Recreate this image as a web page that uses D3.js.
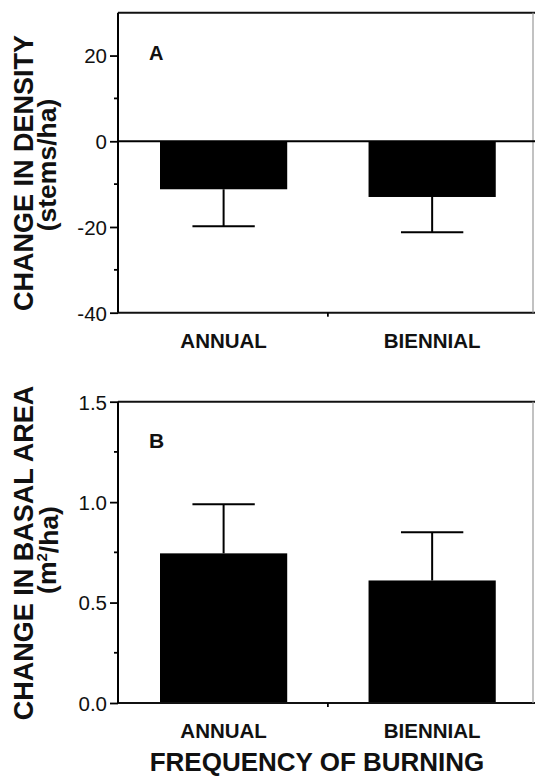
<!DOCTYPE html>
<html>
<head>
<meta charset="utf-8">
<script src="https://cdn.jsdelivr.net/npm/d3@7"></script>
<style>
    html, body { margin: 0; padding: 0; background: #fff; }
    svg { display: block; font-family: "Liberation Sans", Arial, Helvetica, sans-serif; }
</style>
</head>
<body>
<div id="chart-area"></div>
<script>
// 数据
const categories = ["ANNUAL", "BIENNIAL"];
const densityMeans = [-11.2, -13.0];
const densitySE = [8.6, 8.2];
const basalMeans = [0.745, 0.61];
const basalSE = [0.245, 0.24];

const densityTicks = [20, 0, -20, -40];
const densityTickLabels = ["20", "0", "-20", "-40"];
const densityMinor = [10, -10, -30];
const basalTicks = [0, 0.5, 1.0, 1.5];
const basalTickLabels = ["0.0", "0.5", "1.0", "1.5"];
const basalMinor = [0.25, 0.75, 1.25];

const W = 535, H = 778;
const left = 118, right = 533;

const svg = d3.select("#chart-area")
    .append("svg")
    .attr("width", W)
    .attr("height", H);

// 共用的 x 比例尺
const x = d3.scaleBand()
    .domain(categories)
    .range([left, right])
    .paddingInner(0.39)
    .paddingOuter(0.19)
    .align(0.53);

function drawPanel(opts) {
    const y = d3.scaleLinear().domain(opts.domain).range([opts.bottom, opts.top]);
    const g = svg.append("g");

    const data = categories.map((c, i) => ({ cat: c, mean: opts.means[i], se: opts.se[i] }));

    // 柱
    g.selectAll(".bar")
        .data(data)
        .join("rect")
        .attr("class", "bar")
        .attr("x", (d) => x(d.cat))
        .attr("width", x.bandwidth())
        .attr("y", (d) => y(Math.max(0, d.mean)))
        .attr("height", (d) => Math.abs(y(d.mean) - y(0)))
        .attr("fill", "#000");

    // 误差线
    const bw = x.bandwidth();
    data.forEach((d) => {
        const cx = x(d.cat) + bw / 2;
        const end = d.mean < 0 ? d.mean - d.se : d.mean + d.se;
        g.append("line")
            .attr("x1", cx).attr("x2", cx)
            .attr("y1", y(d.mean)).attr("y2", y(end))
            .attr("stroke", "#000").attr("stroke-width", 2);
        g.append("line")
            .attr("x1", cx - bw * 0.245).attr("x2", cx + bw * 0.245)
            .attr("y1", y(end)).attr("y2", y(end))
            .attr("stroke", "#000").attr("stroke-width", 2);
    });

    // 边框
    g.append("line").attr("x1", left).attr("x2", W).attr("y1", opts.top).attr("y2", opts.top)
        .attr("stroke", "#111").attr("stroke-width", 2);
    g.append("line").attr("x1", left).attr("x2", W).attr("y1", opts.bottom).attr("y2", opts.bottom)
        .attr("stroke", "#111").attr("stroke-width", 2);
    g.append("line").attr("x1", right).attr("x2", right).attr("y1", opts.top).attr("y2", opts.bottom)
        .attr("stroke", "#999").attr("stroke-width", 1.2);

    if (opts.domain[0] < 0) {
        g.append("line").attr("x1", left).attr("x2", W).attr("y1", y(0)).attr("y2", y(0))
            .attr("stroke", "#000").attr("stroke-width", 2);
    }

    // Y 轴
    const axis = g.append("g")
        .attr("transform", `translate(${left},0)`)
        .call(d3.axisLeft(y)
            .tickValues(opts.ticks)
            .tickFormat((d, i) => opts.tickLabels[i])
            .tickSize(8)
            .tickPadding(3));
    axis.select(".domain").attr("stroke", "#000").attr("stroke-width", 2)
        .attr("d", `M0,${opts.top}V${opts.bottom}`);
    axis.selectAll(".tick line").attr("stroke-width", 1.8);
    axis.selectAll(".tick text")
        .attr("fill", "#111")
        .style("font-size", "20.5px")
        .attr("dy", "0.36em");

    g.selectAll(".minor")
        .data(opts.minor)
        .join("line")
        .attr("x1", left - 4).attr("x2", left)
        .attr("y1", (d) => y(d)).attr("y2", (d) => y(d))
        .attr("stroke", "#000").attr("stroke-width", 1.8);

    // X 轴中间刻度
    const mid = (x(categories[0]) + x(categories[1]) + bw) / 2;
    g.append("line").attr("x1", mid).attr("x2", mid)
        .attr("y1", opts.bottom).attr("y2", opts.bottom + 4)
        .attr("stroke", "#000").attr("stroke-width", 1.8);

    // X 标签
    g.selectAll(".cat")
        .data(categories)
        .join("text")
        .attr("class", "cat")
        .attr("x", (d) => x(d) + bw / 2)
        .attr("y", opts.bottom + 35)
        .attr("text-anchor", "middle")
        .style("font-size", "20.5px")
        .style("font-weight", "bold")
        .attr("fill", "#111")
        .text((d) => d);

    // 面板字母
    g.append("text")
        .attr("x", 149)
        .attr("y", opts.letterY)
        .style("font-size", opts.letterSize)
        .style("font-weight", "bold")
        .attr("fill", "#111")
        .text(opts.letter);

    // Y 轴标题
    g.append("text")
        .attr("transform", `translate(33,${opts.titleY}) rotate(-90)`)
        .attr("text-anchor", "middle")
        .style("font-size", "27px")
        .style("font-weight", "bold")
        .attr("fill", "#111")
        .text(opts.title);
    const t2 = g.append("text")
        .attr("transform", `translate(56,${opts.subY}) rotate(-90)`)
        .attr("text-anchor", "middle")
        .style("font-size", "26.5px")
        .style("font-weight", "bold")
        .attr("fill", "#111");
    opts.sub.forEach((s) => {
        t2.append("tspan")
            .attr("dy", s.dy || 0)
            .style("font-size", s.size || null)
            .text(s.text);
    });
}

drawPanel({
    domain: [-40, 30], top: 12.7, bottom: 312.7,
    means: densityMeans, se: densitySE,
    ticks: densityTicks, tickLabels: densityTickLabels, minor: densityMinor,
    letter: "A", letterY: 59.5, letterSize: "20px",
    title: "CHANGE IN DENSITY", titleY: 173,
    sub: [{ text: "(stems/ha)" }], subY: 165
});

drawPanel({
    domain: [0, 1.5], top: 401.7, bottom: 703,
    means: basalMeans, se: basalSE,
    ticks: basalTicks, tickLabels: basalTickLabels, minor: basalMinor,
    letter: "B", letterY: 448, letterSize: "21px",
    title: "CHANGE IN BASAL AREA", titleY: 553,
    sub: [{ text: "(m" }, { text: "2", size: "15px", dy: "-0.6em" }, { text: "/ha)", dy: "0.4em" }], subY: 550
});

// X 轴总标题
svg.append("text")
    .attr("x", 317)
    .attr("y", 771)
    .attr("text-anchor", "middle")
    .style("font-size", "26px")
    .style("font-weight", "bold")
    .attr("fill", "#111")
    .text("FREQUENCY OF BURNING");
</script>
</body>
</html>
